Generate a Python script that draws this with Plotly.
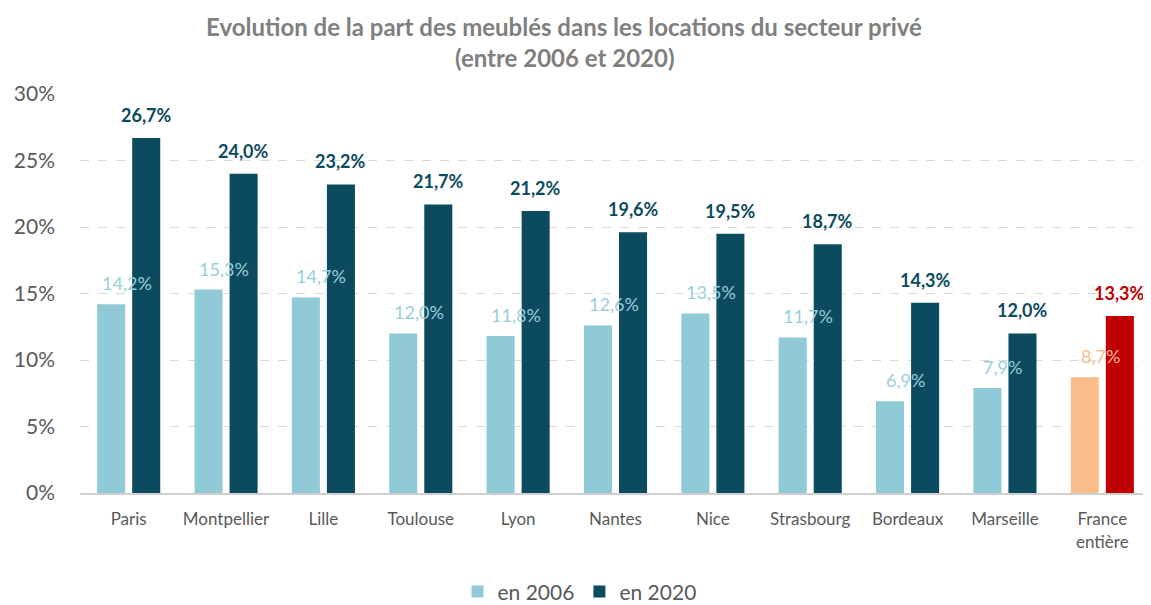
import plotly.graph_objects as go

categories = ["Paris", "Montpellier", "Lille", "Toulouse", "Lyon", "Nantes", "Nice",
              "Strasbourg", "Bordeaux", "Marseille", "France<br>entière"]
values_2006 = [14.2, 15.3, 14.7, 12.0, 11.8, 12.6, 13.5, 11.7, 6.9, 7.9, 8.7]
values_2020 = [26.7, 24.0, 23.2, 21.7, 21.2, 19.6, 19.5, 18.7, 14.3, 12.0, 13.3]
y_ticks = [0, 5, 10, 15, 20, 25, 30]
y_tick_labels = ["0%", "5%", "10%", "15%", "20%", "25%", "30%"]
title_lines = ["Evolution de la part des meublés dans les locations du secteur privé",
               "(entre 2006 et 2020)"]

FONT = "Lato"
LIGHT = "#8FCAD6"
DARK = "#0B4A5F"
PEACH = "#F9BD8C"
RED = "#C00000"
LIGHT_TXT = "#98CFDB"
GRAY = "#595959"

n = len(categories)
c06 = [LIGHT] * (n - 1) + [PEACH]
c20 = [DARK] * (n - 1) + [RED]
t06 = [LIGHT_TXT] * (n - 1) + [PEACH]
t20 = [DARK] * (n - 1) + [RED]

def fmt(v):
    return f"{v:.1f}%".replace(".", ",")

fig = go.Figure()
fig.add_trace(go.Bar(x=categories, y=values_2006, name="en 2006",
                     marker=dict(color=c06, line=dict(width=0))))
fig.add_trace(go.Bar(x=categories, y=values_2020, name="en 2020",
                     marker=dict(color=c20, line=dict(width=0))))

# page body has an 8px margin: figure occupies 8..1151 horizontally
W, H = 1143, 597
ML, MT, MB = 72, 86, 112
title_x = (556 - ML) / (W - ML)

annotations = []
for i, cat in enumerate(categories):
    annotations.append(dict(x=cat, y=values_2006[i], xref="x", yref="y",
                            text=fmt(values_2006[i]), showarrow=False,
                            xshift=-2, yshift=8, yanchor="bottom",
                            font=dict(family=FONT, size=18, color=t06[i])))
    annotations.append(dict(x=cat, y=values_2020[i], xref="x", yref="y",
                            text="<b>" + fmt(values_2020[i]) + "</b>", showarrow=False,
                            xshift=17.5, yshift=10, yanchor="bottom",
                            font=dict(family=FONT, size=18, color=t20[i])))
for line, shift in zip(title_lines, [68, 37]):
    annotations.append(dict(x=title_x, y=1, xref="paper", yref="paper",
                            text="<b>" + line + "</b>", showarrow=False,
                            xanchor="center", yanchor="middle", yshift=shift,
                            font=dict(family=FONT, size=24, color="#7F7F7F")))

fig.update_layout(
    width=W, height=H,
    margin=dict(l=ML, r=0, t=MT, b=MB, autoexpand=False),
    paper_bgcolor="white", plot_bgcolor="white",
    barmode="group", bargap=0.28, bargroupgap=0.2,
    font=dict(family=FONT, color=GRAY),
    xaxis=dict(showgrid=False, showline=True, linecolor="#CFCFCF", linewidth=2,
               tickfont=dict(family=FONT, size=17, color=GRAY), ticks="",
               automargin=False, ticklabelstandoff=10),
    yaxis=dict(range=[0, 30], tickvals=y_ticks, ticktext=y_tick_labels,
               showgrid=True, gridcolor="#D9D9D9", griddash="dash", gridwidth=1,
               zeroline=False, showline=False, ticks="", automargin=False,
               tickfont=dict(family=FONT, size=21, color=GRAY), ticklabelstandoff=24),
    legend=dict(orientation="h", x=0.5, xanchor="center", xref="container",
                y=0.022, yanchor="middle", yref="container",
                font=dict(family=FONT, size=21, color=GRAY), itemwidth=30,
                traceorder="normal"),
    annotations=annotations,
    showlegend=True,
)
fig.write_html("out.html")
